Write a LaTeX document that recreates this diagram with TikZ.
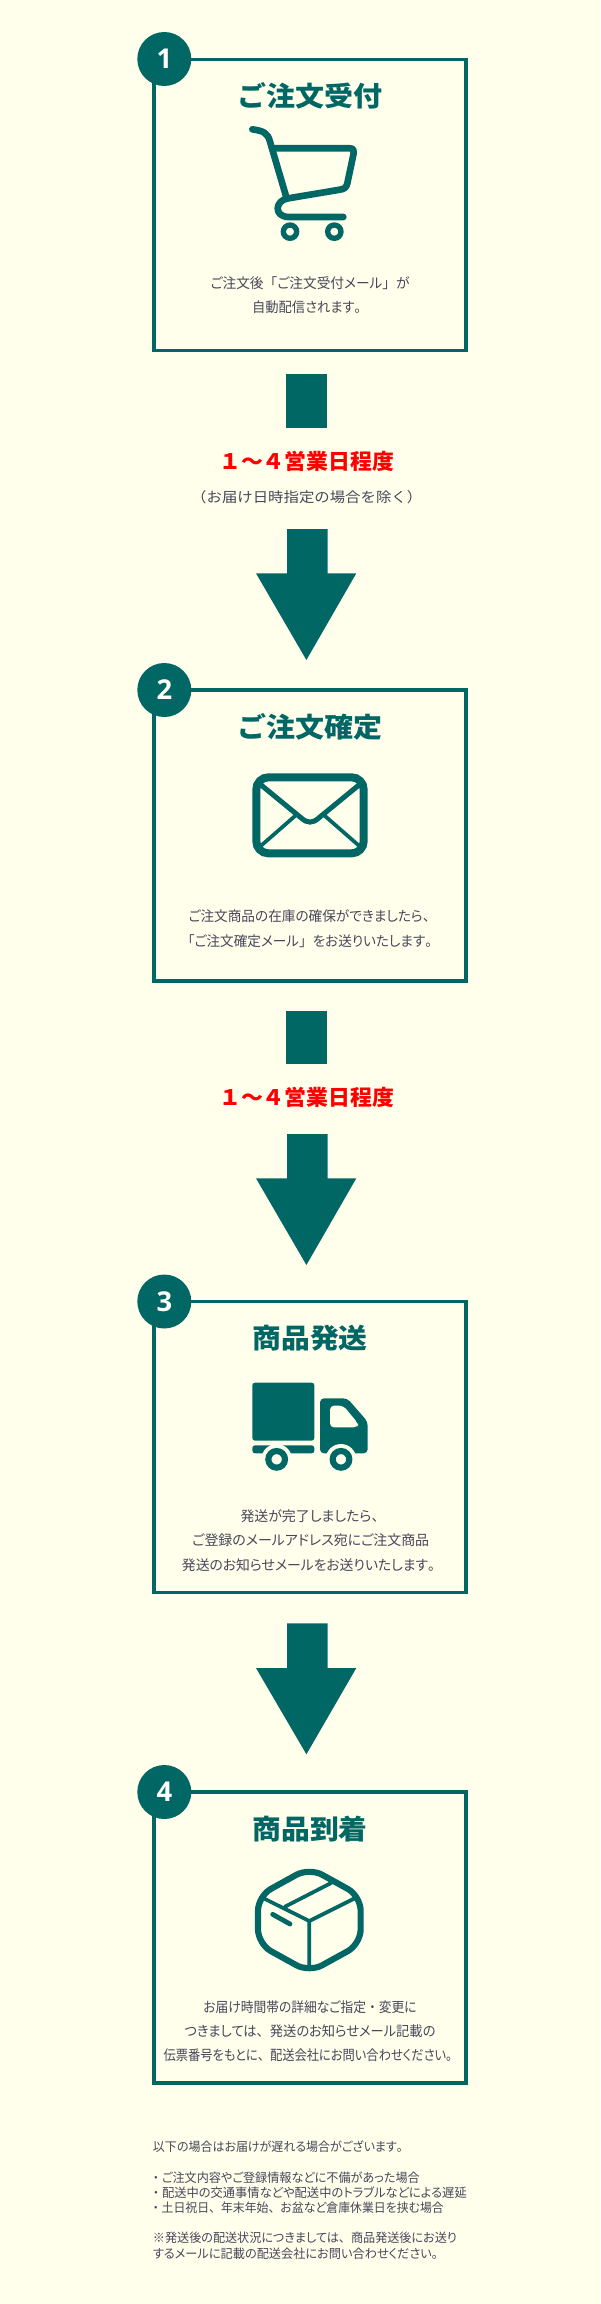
\documentclass[tikz,border=0pt]{standalone}
\usepackage{graphicx}
\usepackage{fontspec}
\newfontfamily\jp[RawFeature=+palt]{Noto Sans CJK JP}
\newfontfamily\jf{Noto Sans CJK JP}
\newfontfamily\numfont{Open Sans}
\definecolor{teal0}{HTML}{006765}
\definecolor{bg0}{HTML}{FFFFEC}
\definecolor{txt0}{HTML}{47475A}
\newdimen\pxu \pxu=0.75pt
\newcommand{\fitw}[2]{\resizebox{#1\pxu}{\height}{#2}}
\newcommand{\fw}[1]{{\jf #1}}
\newcommand{\flowarrow}[3]{\fill[teal0] (287,#1) -- (327.7,#1) -- (327.7,#2) -- (356.3,#2) -- (306.4,#3) -- (256,#2) -- (287,#2) -- cycle;}
\tikzset{
  card/.style={draw=teal0,line width=2.7pt,fill=none},
  badge/.style={circle,fill=teal0,text=white,minimum size=40.5pt,inner sep=0pt,font=\numfont\bfseries\fontsize{20.5pt}{21pt}\selectfont},
  cardtitle/.style={inner sep=0pt,text=teal0,font=\jf\bfseries\fontsize{20.5pt}{24pt}\selectfont,text height=17pt,text depth=3pt},
  body/.style={inner sep=0pt,text=txt0,font=\jp\fontsize{10.5pt}{12pt}\selectfont,text height=9pt,text depth=1.5pt},
  note/.style={inner sep=0pt,anchor=west,text=txt0,font=\jp\fontsize{9.4pt}{11pt}\selectfont,text height=8pt,text depth=1.4pt},
  redlabel/.style={inner sep=0pt,text=red,font=\jf\bfseries\fontsize{16pt}{18pt}\selectfont,text height=13.5pt,text depth=2pt},
  icon/.style={draw=teal0,line cap=round,line join=round,fill=none},
}
\begin{document}
\begin{tikzpicture}[x=0.75pt,y=-0.75pt]
\fill[bg0] (0,0) rectangle (600,2304);
\useasboundingbox (0,0) rectangle (600,2304);
% cards
\draw[card] (154,59.5) rectangle (465.7,350.5);
\draw[card] (154,690) rectangle (465.7,981);
\draw[card] (154,1301.5) rectangle (465.7,1592.5);
\draw[card] (154,1792) rectangle (465.7,2083);
% badges
\node[badge] (n1) at (164.3,59) {1};
\node[badge] (n2) at (164.3,690) {2};
\node[badge] (n3) at (164.3,1301.5) {3};
\node[badge] (n4) at (164.3,1792) {4};
% titles
\node[cardtitle] (t1) at (309.5,96.7) {\fitw{145}{ご注文受付}};
\node[cardtitle] (t2) at (309.5,728) {\fitw{145}{ご注文確定}};
\node[cardtitle] (t3) at (310,1339) {\fitw{115}{商品発送}};
\node[cardtitle] (t4) at (310,1830) {\fitw{115}{商品到着}};
% body text
\node[body] (b1a) at (310,283.3) {\fitw{199}{ご注文後\fw{「}ご注文受付メール\fw{」}が}};
\node[body] (b1b) at (310,307.3) {\fitw{116}{自動配信されます\fw{。}}};
\node[body] (b2a) at (312.5,916.7) {\fitw{248}{ご注文商品の在庫の確保ができましたら\fw{、}}};
\node[body] (b2b) at (310,941.7) {\fitw{258}{\fw{「}ご注文確定メール\fw{」}をお送りいたします\fw{。}}};
\node[body] (b3a) at (313,1516) {\fitw{145}{発送が完了しましたら\fw{、}}};
\node[body] (b3b) at (310.7,1540.7) {\fitw{237}{ご登録のメールアドレス宛にご注文商品}};
\node[body] (b3c) at (312,1565) {\fitw{260}{発送のお知らせメールをお送りいたします\fw{。}}};
\node[body] (b4a) at (310,2007) {\fitw{213}{お届け時間帯の詳細なご指定\fw{・}変更に}};
\node[body] (b4b) at (310,2031.7) {\fitw{251}{つきましては\fw{、}発送のお知らせメール記載の}};
\node[body] (b4c) at (311,2055.5) {\fitw{295}{伝票番号をもとに\fw{、}配送会社にお問い合わせください\fw{。}}};
% flow arrows
\fill[teal0] (286,374) rectangle (326.7,427.7);
\node[redlabel] (r1) at (306.7,461.7) {\fitw{175}{１～４営業日程度}};
\node[body,font=\jf\fontsize{10.5pt}{12pt}\selectfont] (g1) at (306.7,497) {\fitw{231}{（お届け日時指定の場合を除く）}};
\flowarrow{529}{573.3}{660}
\fill[teal0] (286,1011) rectangle (326.7,1064);
\node[redlabel] (r2) at (306.7,1097.7) {\fitw{175}{１～４営業日程度}};
\flowarrow{1134}{1178.3}{1265}
\flowarrow{1623.3}{1668}{1754.3}
% footer
\node[note] (f1) at (152.7,2147) {\fitw{256}{以下の場合はお届けが遅れる場合がございます\fw{。}}};
\node[note] (f2) at (149.5,2178) {\fitw{270}{\fw{・}ご注文内容やご登録情報などに不備があった場合}};
\node[note] (f3) at (149.5,2192.7) {\fitw{317}{\fw{・}配送中の交通事情などや配送中のトラブルなどによる遅延}};
\node[note] (f4) at (149.5,2207.7) {\fitw{294}{\fw{・}土日祝日\fw{、}年末年始\fw{、}お盆など倉庫休業日を挟む場合}};
\node[note] (f5) at (152.7,2238) {\fitw{304}{※発送後の配送状況につきましては\fw{、}商品発送後にお送り}};
\node[note] (f6) at (152.7,2254) {\fitw{291}{するメールに記載の配送会社にお問い合わせください\fw{。}}};
% cart icon
\begin{scope}[shift={(130,20)},scale=1/3]
\draw[icon,line width=5pt] (367,328) .. controls (400,333) and (413,338) .. (420,365) -- (470,535);
\draw[icon,line width=5pt] (430,385) -- (660,385) .. controls (670,385) and (673,392) .. (671,400) -- (652,490) .. controls (649,503) and (643,507) .. (630,509) -- (475,535) .. controls (435,540) and (430,590) .. (475,591) -- (640,591);
\draw[teal0,line width=4pt] (480,635) circle (20) (613,635) circle (20);
\end{scope}
% mail icon
\begin{scope}[shift={(130,660)},scale=1/3]
\draw[draw=teal0,line width=6pt,rounded corners=9pt] (379,352) rectangle (701,580);
\draw[icon,line width=3.8pt] (392,374) -- (515,475) .. controls (532,490) and (548,490) .. (565,475) -- (688,374);
\draw[icon,line width=2.8pt] (495,468) -- (392,558) (585,468) -- (688,558);
\end{scope}
% truck icon
\begin{scope}[shift={(130,1270)},scale=1/3]
\fill[teal0,rounded corners=2pt] (367,338) rectangle (553,512);
\fill[teal0,rounded corners=2pt] (367,526) rectangle (553,550);
\fill[teal0,rounded corners=3pt] (570,385) -- (652,385) -- (713,455) -- (713,550) -- (570,550) -- cycle;
\fill[bg0,rounded corners=3pt] (600,407) -- (640,407) -- (684,460) -- (684,472) -- (600,472) -- cycle;
\fill[bg0] (440,568) circle (46) (633,568) circle (46);
\draw[teal0,line width=4.6pt] (440,568) circle (25) (633,568) circle (25);
\end{scope}
% box icon
\begin{scope}[shift={(130,1760)},scale=1/3]
\draw[draw=teal0,line width=4.6pt,line join=round,rounded corners=11pt] (538,323) -- (692,408) -- (692,552) -- (538,637) -- (384,552) -- (384,408) -- cycle;
\draw[icon,line width=2.8pt] (395,412) -- (538,483) -- (680,412) (538,483) -- (538,628) (465,440) -- (605,368);
\draw[icon,line width=3.6pt] (428,463) -- (480,492);
\end{scope}
\end{tikzpicture}
\end{document}
